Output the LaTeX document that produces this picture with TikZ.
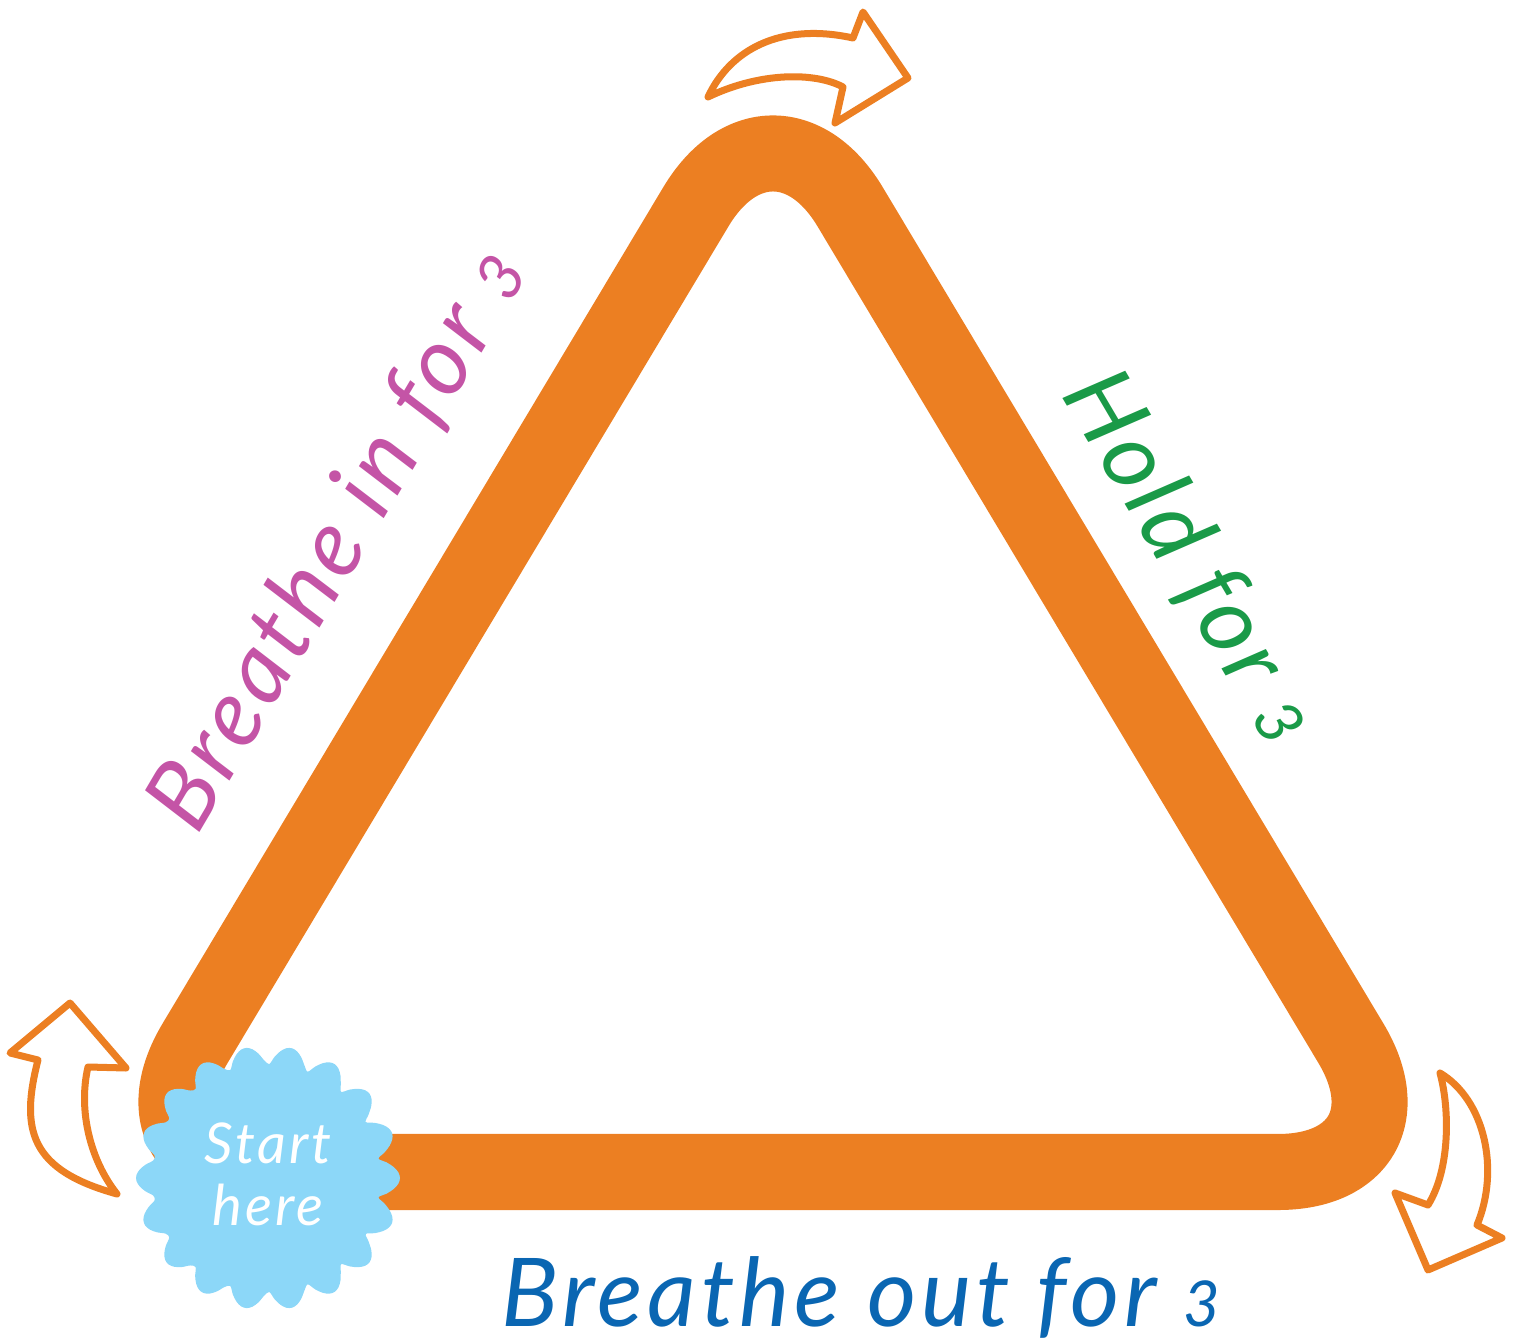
\documentclass[tikz,border=0pt]{standalone}
\usepackage{fontspec}
\newfontfamily\handfont[LetterSpace=5]{Lato}
\usetikzlibrary{positioning}

\definecolor{bandorange}{RGB}{236,127,34}
\definecolor{badgeblue}{RGB}{140,215,248}
\definecolor{inpink}{RGB}{196,84,166}
\definecolor{holdgreen}{RGB}{26,154,72}
\definecolor{outblue}{RGB}{10,102,178}

\begin{document}
\begin{tikzpicture}[
    x=0.01cm, y=-0.01cm,
    band/.style={draw=bandorange, line width=0.76cm, rounded corners=1.5cm, line join=round},
    turnarrow/.style={draw=bandorange, fill=white, line width=0.07cm, line join=round},
    handtext/.style={font=\handfont\itshape\fontsize{27}{30}\selectfont, inner sep=0pt},
    badge/.style={fill=badgeblue},
    badgetext/.style={font=\handfont\itshape\fontsize{16}{18}\selectfont, text=white, inner sep=0pt}
  ]
    \useasboundingbox (0,0) rectangle (1515,1340);

    % corners of the triangle
    \coordinate (A) at (118,1172);
    \coordinate (B) at (773,78);
    \coordinate (C) at (1428,1172);
    \coordinate (AC) at (773,1172);
    \draw[band] (AC) -- (C) -- (B) -- (A) -- cycle;

    % ==========================================
    % turning arrows
    \draw[turnarrow] (708,97) .. controls (730,50) and (780,22) .. (853,38)
      -- (863,12) -- (908,78) -- (835,123) -- (843,87)
      .. controls (815,72) and (760,72) .. cycle;
    \draw[turnarrow] (117,1194) .. controls (90,1160) and (78,1110) .. (88,1067)
      -- (126,1068) -- (70,1003) -- (10,1053) -- (38,1060)
      .. controls (20,1130) and (30,1170) .. cycle;
    \draw[turnarrow] (1440,1073) .. controls (1485,1100) and (1500,1170) .. (1477,1225)
      -- (1502,1238) -- (1428,1270) -- (1395,1193) -- (1428,1205)
      .. controls (1450,1170) and (1450,1110) .. cycle;

    % ==========================================
    \node[handtext, text=inpink, rotate=59.5] (inlabel) at (338,540) {Breathe in for {\fontsize{18}{20}\selectfont 3}};
    \node[handtext, text=holdgreen, rotate=-59.5] (holdlabel) at (1190,557) {Hold for {\fontsize{18}{20}\selectfont 3}};
    \node[handtext, text=outblue, anchor=base, text depth=0pt] (outlabel) at (861,1326) {Breathe out for {\fontsize{18}{20}\selectfont 3}};

    % ==========================================
    \fill[badge] plot[smooth cycle, samples=145, domain=0:357.5, variable=\t]
      ({268+(112+20*abs(cos(9*\t)))*cos(\t)}, {1178+(112+20*abs(cos(9*\t)))*sin(\t)});
    \node[badgetext, anchor=base] (start) at (268,1163) {Start};
    \node[badgetext, anchor=base] (here) at (268,1225) {here};

  \end{tikzpicture}
\end{document}
